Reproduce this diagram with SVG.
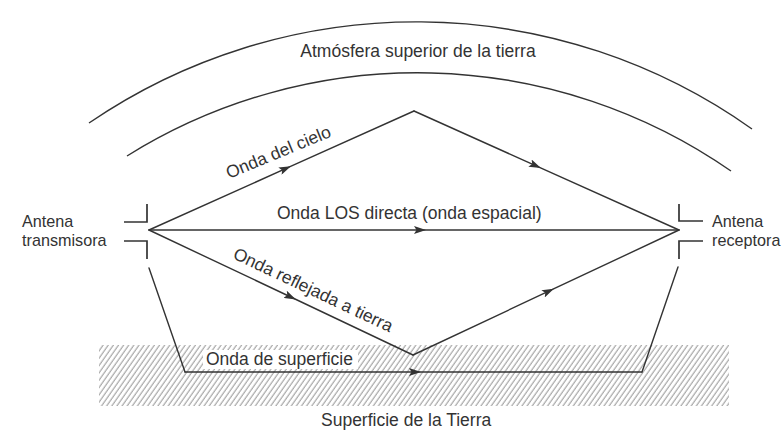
<svg xmlns="http://www.w3.org/2000/svg" width="784" height="430" viewBox="0 0 784 430">
  <defs>
    <style>
      .t { font-family: "Liberation Sans", Arial, sans-serif; font-size: 17.5px; fill: #333; }
      .ta { font-family: "Liberation Sans", Arial, sans-serif; font-size: 16.2px; fill: #333; }
      .ln { fill: none; stroke: #333; stroke-width: 1.4; stroke-linejoin: miter; stroke-linecap: round; }
      .ant { fill: none; stroke: #333; stroke-width: 1.7; }
      .arc { fill: none; stroke: #333; stroke-width: 1.4; }
      .arr { marker-mid: url(#ah); }
    </style>
    <marker id="ah" viewBox="0 0 12 8" refX="11" refY="4" markerWidth="12" markerHeight="8" markerUnits="userSpaceOnUse" orient="auto">
      <path d="M0,0 L12,4 L0,8 L2.5,4 z" fill="#333"/>
    </marker>
    <pattern id="hatch" patternUnits="userSpaceOnUse" width="4.2" height="10" patternTransform="rotate(35)">
      <line x1="1" y1="0" x2="1" y2="10" stroke="#8a8a8a" stroke-width="0.9"/>
    </pattern>
  </defs>
  <rect width="784" height="430" fill="#ffffff"/>

  <g id="atmosphere">
    <path class="arc" d="M89,123 A580,580 0 0 1 752,129"/>
    <path class="arc" d="M127,156 A549,549 0 0 1 731,171"/>
    <text class="t" x="418" y="57" text-anchor="middle">Atmósfera superior de la tierra</text>
  </g>

  <g id="ground">
    <rect x="99" y="345" width="630" height="61" fill="url(#hatch)"/>
    <rect x="203" y="350" width="155" height="19" fill="#ffffff"/>
    <text class="t" x="321" y="426">Superficie de la Tierra</text>
  </g>

  <g id="tx-antenna">
    <path class="ant" d="M124,222 H147 V204"/>
    <path class="ant" d="M124,241 H147 V259"/>
    <text class="ta" x="22" y="226.5">Antena</text>
    <text class="ta" x="22" y="245.5">transmisora</text>
  </g>

  <g id="rx-antenna">
    <path class="ant" d="M703,221 H679 V204"/>
    <path class="ant" d="M703,241 H679 V259"/>
    <text class="ta" x="712" y="226.5">Antena</text>
    <text class="ta" x="712" y="245.5">receptora</text>
  </g>

  <g id="connectors">
    <path class="ln arr" d="M149,230 L290,166.7 L414,111"/>
    <path class="ln arr" d="M414,111 L540,167.6 L679,230"/>
    <path class="ln arr" d="M149,230 L425,230 L679,230"/>
    <path class="ln arr" d="M149,230 L295,299 L413,355"/>
    <path class="ln arr" d="M413,355 L553,289.2 L679,230"/>
    <path class="ln" d="M149,268 L185,372"/>
    <path class="ln arr" d="M185,372 L420,372 L642,372"/>
    <path class="ln" d="M642,372 L678,267"/>
    <text class="t" transform="translate(229,179) rotate(-22.5)">Onda del cielo</text>
    <text class="t" x="277" y="219">Onda LOS directa (onda espacial)</text>
    <text class="t" transform="translate(232,258) rotate(25.3)">Onda reflejada a tierra</text>
    <text class="t" x="206" y="365">Onda de superficie</text>
  </g>
</svg>
